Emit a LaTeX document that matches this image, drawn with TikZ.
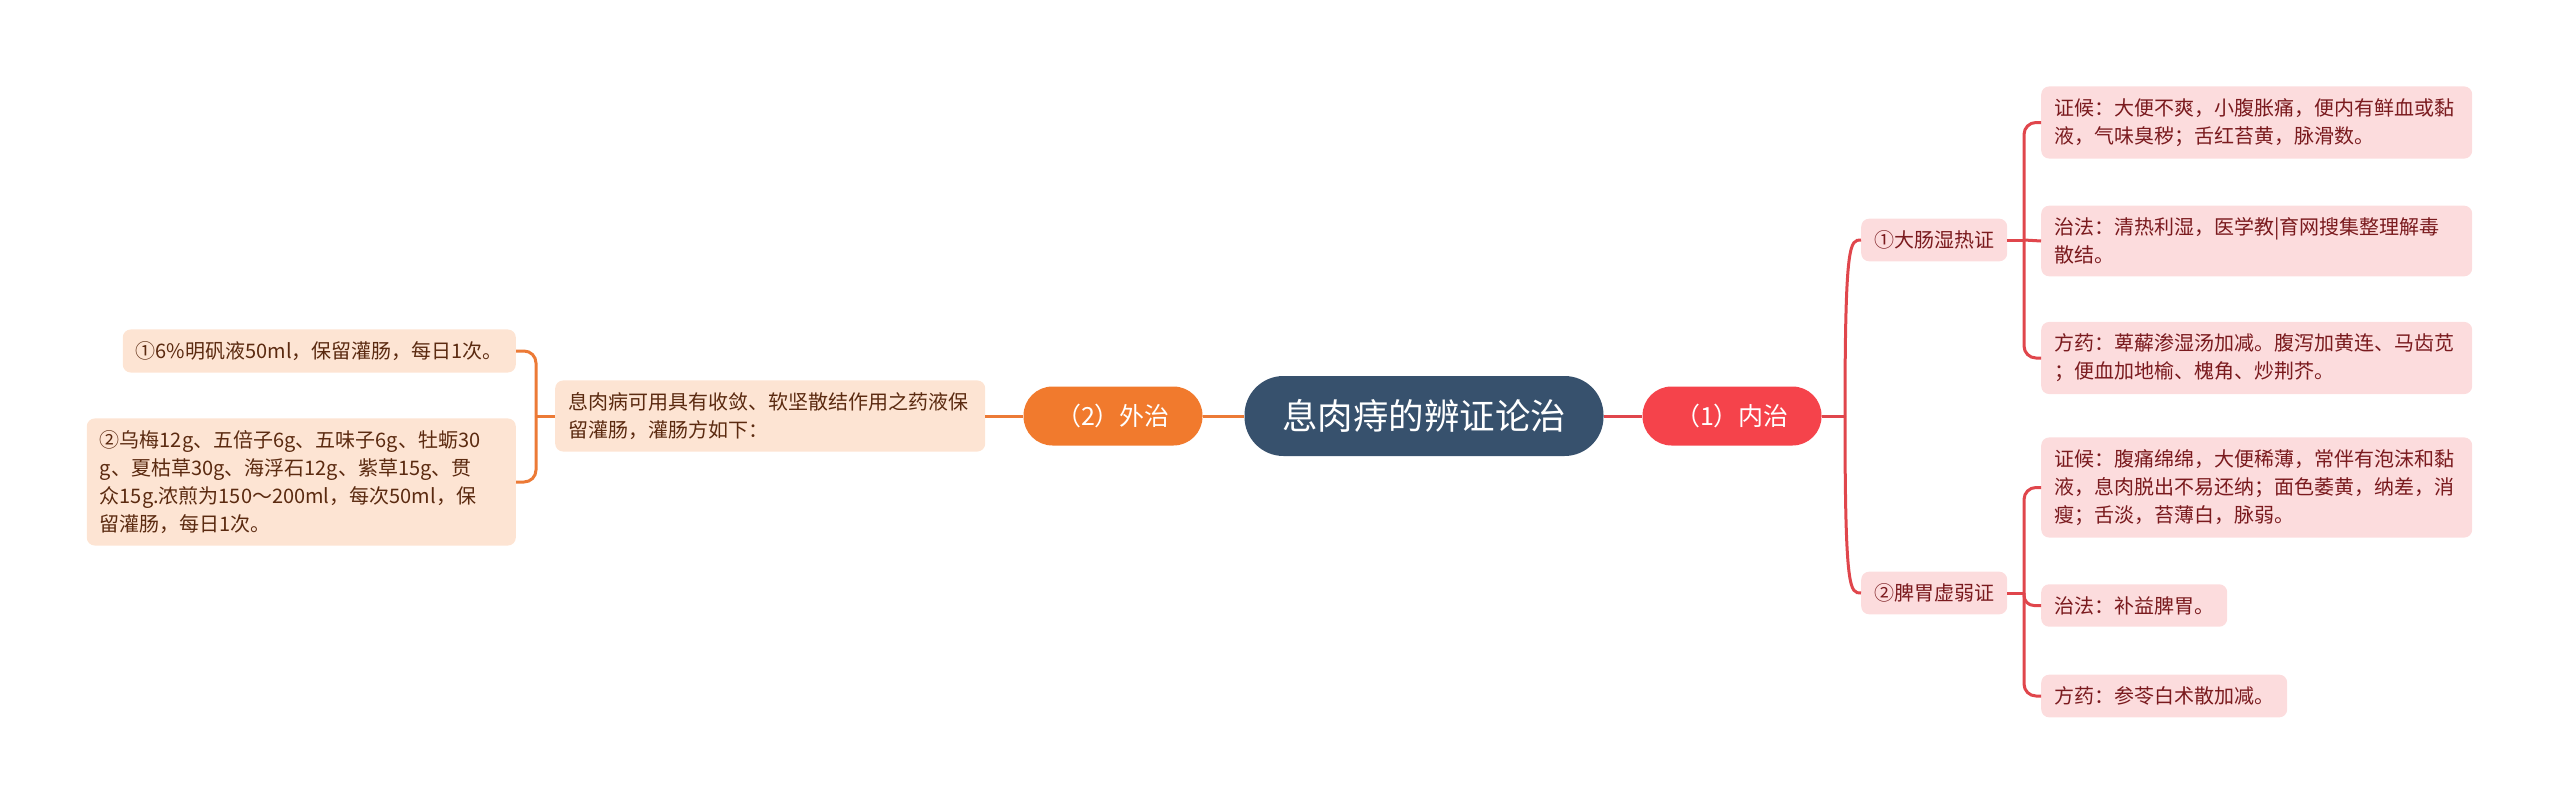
\documentclass[tikz,border=0pt]{standalone}
\usepackage{fontspec}
\setmainfont{Noto Sans CJK SC}
\definecolor{rootc}{HTML}{37516D}
\definecolor{redc}{HTML}{F5434B}
\definecolor{orangec}{HTML}{F17A2D}
\definecolor{leafRc}{HTML}{FCDCDD}
\definecolor{leafOc}{HTML}{FDE4D3}
\definecolor{txtR}{HTML}{7A1A1E}
\definecolor{txtO}{HTML}{5B2A10}
\definecolor{lineR}{HTML}{E0464C}
\definecolor{lineO}{HTML}{EC7A36}
\begin{document}
\begin{tikzpicture}[x=1pt,y=-1pt,
  rootnode/.style={fill=rootc, text=white, rounded corners=39pt, minimum width=359pt, minimum height=80pt, inner sep=0pt, font=\fontsize{35.5}{40}\selectfont},
  mainnode/.style={text=white, rounded corners=29pt, minimum width=179pt, minimum height=59pt, inner sep=0pt, font=\fontsize{25}{30}\selectfont},
  leafR/.style={fill=leafRc, text=txtR, rounded corners=8pt, inner xsep=13pt, inner ysep=12pt, font=\fontsize{20}{28}\selectfont, align=left},
  leafO/.style={fill=leafOc, text=txtO, rounded corners=8pt, inner xsep=13pt, inner ysep=12pt, font=\fontsize{20}{28}\selectfont, align=left},
  conR/.style={draw=lineR, line width=3pt},
  conO/.style={draw=lineO, line width=3pt},
]
\useasboundingbox (0,0) rectangle (2560,806);

% central and main branches
\node[rootnode] (root) at (1424,416) {息肉痔的辨证论治};
\node[mainnode, fill=redc] (n1) at (1732,416) {（1）内治};
\node[mainnode, fill=orangec] (n2) at (1113,416) {（2）外治};

% right side
\node[leafR, anchor=west] (a) at (1861,240) {①大肠湿热证};
\node[leafR, anchor=west] (b) at (1861,593) {②脾胃虚弱证};

\node[leafR, anchor=west, text width=405pt] (a1) at (2041,122.5) {证候：大便不爽，小腹胀痛，便内有鲜血或黏\\液，气味臭秽；舌红苔黄，脉滑数。};
\node[leafR, anchor=west, text width=405pt] (a2) at (2041,241) {治法：清热利湿，医学教|育网搜集整理解毒\\散结。};
\node[leafR, anchor=west, text width=405pt] (a3) at (2041,358) {方药：萆薢渗湿汤加减。腹泻加黄连、马齿苋\\；便血加地榆、槐角、炒荆芥。};

\node[leafR, anchor=west, text width=405pt] (b1) at (2041,487.5) {证候：腹痛绵绵，大便稀薄，常伴有泡沫和黏\\液，息肉脱出不易还纳；面色萎黄，纳差，消\\瘦；舌淡，苔薄白，脉弱。};
\node[leafR, anchor=west] (b2) at (2041,605.5) {治法：补益脾胃。};
\node[leafR, anchor=west] (b3) at (2041,696) {方药：参苓白术散加减。};

% left side
\node[leafO, anchor=west, text width=404pt] (m) at (555,416) {息肉病可用具有收敛、软坚散结作用之药液保\\留灌肠，灌肠方如下：};
\node[leafO, anchor=east] (l1) at (516,351) {①6\%明矾液50ml，保留灌肠，每日1次。};
\node[leafO, anchor=east, text width=403pt] (l2) at (516,482) {②乌梅12g、五倍子6g、五味子6g、牡蛎30\\g、夏枯草30g、海浮石12g、紫草15g、贯\\众15g.浓煎为150～200ml，每次50ml，保\\留灌肠，每日1次。};

% connectors right
\draw[conR] (root.east) -- (n1.west);
\coordinate (s1) at (1845,416);
\draw[conR] (n1.east) -- (s1);
\draw[conR] (s1) .. controls (1845,240) and (1850,240) .. (a.west);
\draw[conR] (s1) .. controls (1845,593) and (1850,593) .. (b.west);

\coordinate (sa) at (2024,240);
\draw[conR] (a.east) -- (sa);
\draw[conR, rounded corners=12pt] (sa) |- (a1.west);
\draw[conR] (sa) -- (a2.west);
\draw[conR, rounded corners=12pt] (sa) |- (a3.west);

\coordinate (sb) at (2024,593);
\draw[conR] (b.east) -- (sb);
\draw[conR, rounded corners=12pt] (sb) |- (b1.west);
\draw[conR, rounded corners=10pt] (sb) |- (b2.west);
\draw[conR, rounded corners=12pt] (sb) |- (b3.west);

% connectors left
\draw[conO] (root.west) -- (n2.east);
\draw[conO] (n2.west) -- (m.east);
\coordinate (sl) at (536,416);
\draw[conO] (m.west) -- (sl);
\draw[conO, rounded corners=12pt] (sl) |- (l1.east);
\draw[conO, rounded corners=12pt] (sl) |- (l2.east);
\end{tikzpicture}
\end{document}
